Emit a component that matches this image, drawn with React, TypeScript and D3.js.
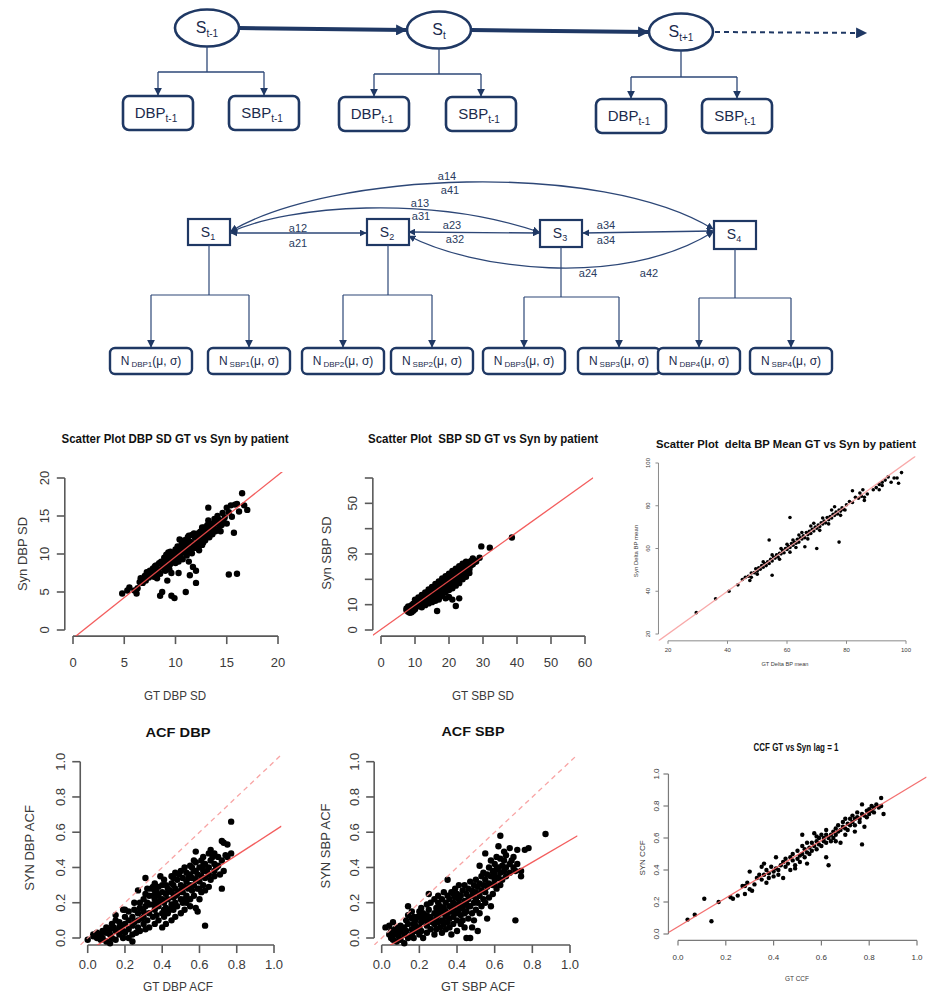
import * as d3 from 'd3'

type Pt = [number, number]

// ---------- top chain diagram ----------
const chainStates = ['t-1', 't', 't+1']
const chainObsSub = ['t-1', 't-1', 't-1']

// ---------- HMM diagram ----------
const hmmStates = ['1', '2', '3', '4']
const hmmEmissions = ['DBP', 'SBP']
const transitionLabels = [
  ['a14', 'a41'],
  ['a13', 'a31'],
  ['a12', 'a21'],
  ['a23', 'a32'],
  ['a34', 'a34'],
  ['a24', 'a42'],
]

// ---------- scatter data ----------
const dbpSd: Pt[] = [
  [4.8, 4.8], [5.3, 5.2], [5.5, 5.6], [6.0, 5.2], [6.2, 4.8], [6.3, 5.5], [6.5, 6.3], [6.6, 6.8], [6.8, 6.2],
  [7.0, 7.1], [7.1, 6.5], [7.2, 7.6], [7.3, 7.3], [7.4, 6.9], [7.5, 7.8], [7.6, 7.2], [7.8, 8.1], [7.9, 7.0],
  [8.0, 7.6], [8.0, 8.4], [8.1, 8.5], [8.2, 6.8], [8.3, 8.0], [8.4, 8.8], [8.5, 7.4], [8.5, 4.5], [8.6, 9.0],
  [8.7, 5.0], [8.8, 8.3], [8.9, 9.5], [9.0, 7.8], [9.0, 8.9], [9.1, 9.9], [9.2, 6.5], [9.2, 9.7], [9.3, 8.5],
  [9.3, 10.2], [9.4, 9.3], [9.5, 10.3], [9.6, 7.5], [9.6, 4.5], [9.7, 9.0], [9.7, 9.6], [9.8, 10.0], [9.9, 4.2],
  [10.0, 8.8], [10.0, 10.6], [10.1, 9.6], [10.2, 11.0], [10.2, 10.0], [10.3, 7.5], [10.4, 9.9], [10.4, 11.9],
  [10.5, 10.8], [10.5, 9.5], [10.6, 11.3], [10.7, 9.3], [10.8, 10.5], [10.8, 11.4], [10.9, 11.8], [11.0, 5.0],
  [11.0, 10.1], [11.0, 11.7], [11.1, 11.0], [11.2, 12.2], [11.3, 9.0], [11.3, 10.6], [11.4, 7.2], [11.5, 10.7],
  [11.5, 11.6], [11.6, 12.5], [11.6, 10.1], [11.7, 8.3], [11.8, 11.0], [11.8, 12.7], [11.9, 12.2], [12.0, 6.2],
  [12.0, 7.8], [12.1, 11.5], [12.2, 12.7], [12.3, 10.5], [12.3, 12.0], [12.4, 12.0], [12.5, 13.0], [12.6, 11.2],
  [12.6, 13.5], [12.7, 12.4], [12.8, 13.5], [12.8, 12.9], [12.9, 11.8], [13.0, 12.8], [13.1, 13.8], [13.2, 14.4],
  [13.2, 16.1], [13.3, 12.2], [13.4, 13.2], [13.5, 14.0], [13.5, 13.5], [13.6, 12.6], [13.7, 13.6], [13.8, 14.6],
  [13.9, 13.0], [14.0, 14.0], [14.1, 15.0], [14.2, 13.3], [14.3, 14.4], [14.5, 13.8], [14.6, 15.4], [14.8, 14.8],
  [15.0, 14.0], [15.0, 16.1], [15.2, 15.5], [15.2, 7.3], [15.4, 16.4], [15.5, 14.9], [15.7, 12.8], [15.8, 16.5],
  [16.0, 7.4], [16.0, 16.6], [16.2, 15.6], [16.5, 18.0], [16.7, 16.4], [17.0, 15.8],
  [8.2, 7.9], [8.7, 8.6], [8.9, 8.0], [9.1, 8.4], [9.4, 8.0], [9.6, 9.4], [9.9, 9.2], [10.1, 10.4], [10.3, 9.0],
  [10.6, 10.2], [10.9, 10.9], [11.1, 9.8], [11.2, 11.4], [11.4, 10.3], [11.7, 11.4], [11.9, 10.8], [12.1, 12.3],
  [12.2, 11.0], [12.4, 12.9], [12.7, 11.5], [12.9, 13.2], [13.1, 12.5], [13.3, 13.6], [13.6, 13.9], [13.9, 14.2],
  [14.2, 14.5], [14.4, 13.0], [14.7, 14.2], [9.5, 8.7], [10.0, 9.2], [10.7, 11.7], [11.3, 12.4], [7.7, 7.6],
  [8.4, 7.5], [6.9, 6.7],
]

const sbpSd: Pt[] = [
  [7.5, 7.8], [7.5, 8.5], [8, 7.2], [8, 8.6], [8, 9.3], [8.5, 8.0], [8.5, 9.2], [9, 8.3], [9, 9.8], [9, 7.0],
  [9.5, 9.0], [9.5, 10.4], [10, 9.4], [10, 10.8], [10, 8.2], [10.5, 10.0], [10.5, 11.3], [11, 10.2], [11, 11.8],
  [11, 9.4], [11.5, 10.8], [11.5, 12.3], [12, 11.2], [12, 12.8], [12, 10.0], [12.5, 11.6], [12.5, 13.3],
  [12.5, 12.4], [13, 12.2], [13, 13.8], [13, 10.8], [13.5, 12.8], [13.5, 14.4], [13.5, 11.7], [14, 13.2],
  [14, 14.8], [14, 12.0], [14.5, 13.8], [14.5, 15.5], [14.5, 12.6], [15, 14.2], [15, 16.0], [15, 13.0],
  [15, 11.5], [15.5, 14.8], [15.5, 16.4], [15.5, 13.5], [16, 15.2], [16, 17.0], [16, 13.8], [16, 12.2],
  [16.5, 15.8], [16.5, 17.5], [16.5, 14.2], [16.5, 7.5], [17, 16.2], [17, 18.0], [17, 14.6], [17, 12.0],
  [17.5, 16.8], [17.5, 18.5], [17.5, 15.2], [18, 17.2], [18, 19.0], [18, 15.5], [18, 13.5], [18.5, 17.8],
  [18.5, 19.5], [18.5, 16.0], [19, 18.2], [19, 20.2], [19, 16.5], [19, 12.5], [19.5, 18.7], [19.5, 20.6],
  [19.5, 17.2], [20, 19.2], [20, 21.0], [20, 17.8], [20, 13.0], [20.5, 19.8], [20.5, 21.6], [20.5, 18.4],
  [21, 20.2], [21, 22.2], [21, 18.8], [21, 12.0], [21.5, 20.8], [21.5, 22.5], [21.5, 19.2], [22, 21.2],
  [22, 23.0], [22, 19.8], [22, 9.5], [22.5, 21.6], [22.5, 23.5], [22.5, 20.2], [23, 22.2], [23, 24.0],
  [23, 20.8], [23, 12.5], [23.5, 22.6], [23.5, 24.5], [23.5, 21.2], [24, 23.2], [24, 25.0], [24, 22.0],
  [24.5, 23.6], [24.5, 25.3], [25, 24.2], [25, 25.8], [25, 22.8], [25.5, 24.6], [25.5, 26.2], [26, 25.0],
  [26, 26.8], [26, 24.0], [26.5, 25.6], [26.5, 27.3], [27, 26.0], [27, 28.2], [27.5, 26.8], [27.5, 27.5],
  [28, 27.0], [29, 28.5], [29.5, 33.0], [32, 32.5], [38.5, 36.5],
  [10, 12.0], [11, 12.8], [12, 13.8], [13, 14.8], [14, 16.0], [15, 17.0], [16, 18.2], [17, 19.2], [18, 20.3],
  [19, 21.2], [20, 22.2], [21, 23.3], [22, 24.2], [23, 25.2], [24, 26.2], [25, 27.0], [12, 9.0], [13, 9.8],
  [14, 10.5], [15, 11.0], [16, 11.5], [17, 13.0], [18, 14.2], [19, 15.0], [20, 15.8], [21, 16.5], [22, 17.5],
  [23, 18.5], [24, 20.0], [25, 21.0], [26, 22.5], [8.5, 6.8], [9.5, 7.6],
]

const deltaBpMean: Pt[] = [
  [29.5, 30], [36, 36.5], [40.5, 40], [43.5, 43], [45, 45.5], [46, 46.5], [47, 47], [47.5, 45], [48, 48.5],
  [48, 46.5], [49, 48.7], [49.5, 50.5], [50, 49.5], [50, 48], [50.5, 51], [51, 50.3], [51.5, 52], [52, 51.2],
  [52, 53.8], [52.5, 53], [53, 52], [53.5, 53.8], [54, 53], [54, 64], [54.5, 55], [55, 54.2], [55, 47.5],
  [55, 57], [55.5, 56], [56, 55.5], [56.5, 57], [57, 56], [57.5, 57.8], [57.5, 55], [58, 57.5], [58, 60],
  [58.5, 59], [59, 58], [59.5, 60], [60, 59.5], [60, 62], [60.5, 61], [61, 60.5], [61, 74.5], [61, 58.3],
  [61.5, 62.3], [62, 61.5], [62, 64], [62.5, 63], [63, 62.5], [63, 60.5], [63.5, 64.3], [64, 63], [64, 66.3],
  [64.5, 65], [65, 64.5], [65, 67.5], [65.5, 66], [66, 65], [66, 60.8], [66.5, 67.5], [67, 66.5], [67, 64.5],
  [67.5, 68], [68, 67], [68, 70.5], [68.5, 69], [69, 68.2], [69, 71.8], [69.5, 70], [70, 69.5], [70, 60],
  [70.5, 71], [71, 70.3], [71, 68.5], [71.5, 72], [72, 71.5], [72, 74.3], [72.5, 72.8], [73, 72], [73.5, 74.5],
  [74, 73.5], [74, 71.5], [74.5, 75], [75, 74.3], [75, 78], [75.5, 76], [76, 75.5], [76, 79.5], [76.5, 77],
  [77, 76.2], [77.5, 63], [77.5, 78], [78, 77.5], [78, 75.5], [78.5, 79], [79, 78.3], [79.5, 78], [80, 80.5],
  [81, 82], [82, 81.5], [82, 87], [83, 84], [84, 83.5], [84.5, 86], [85, 84.5], [85.5, 87.5], [86, 82.5],
  [86, 84], [87, 85.5], [89, 87.5], [90, 88.5], [91, 90], [91, 87.5], [92, 91], [92, 89.5], [93, 92],
  [94, 93.5], [95, 91], [96, 93], [97, 93], [97.5, 90.5], [98.5, 95.5],
]

const acfDbp: Pt[] = [
  [0.0, -0.01], [0.03, 0.02], [0.03, 0.01], [0.05, 0.0], [0.05, 0.03], [0.07, 0.02], [0.07, -0.01], [0.08, 0.04],
  [0.08, 0.0], [0.1, 0.03], [0.1, 0.06], [0.1, -0.02], [0.12, 0.02], [0.12, 0.05], [0.12, -0.03], [0.13, 0.08],
  [0.13, 0.0], [0.15, 0.04], [0.15, 0.13], [0.15, 0.1], [0.15, -0.01], [0.17, 0.06], [0.17, 0.02], [0.17, 0.09],
  [0.19, 0.0], [0.19, 0.04], [0.19, 0.16], [0.2, 0.08], [0.2, 0.12], [0.2, 0.03], [0.22, 0.1], [0.22, 0.05],
  [0.22, 0.15], [0.22, 0.0], [0.24, 0.12], [0.24, 0.07], [0.24, 0.02], [0.24, -0.02], [0.25, 0.16], [0.25, 0.09],
  [0.27, 0.14], [0.27, 0.27], [0.27, 0.06], [0.27, 0.1], [0.28, 0.2], [0.28, 0.04], [0.28, 0.17], [0.3, 0.12],
  [0.3, 0.22], [0.31, 0.34], [0.3, 0.08], [0.3, 0.15], [0.31, 0.18], [0.31, 0.25], [0.31, 0.05], [0.32, 0.1],
  [0.32, 0.2], [0.32, 0.28], [0.33, 0.14], [0.33, 0.24], [0.33, 0.06], [0.35, 0.19], [0.35, 0.29], [0.35, 0.12],
  [0.35, 0.24], [0.36, 0.08], [0.36, 0.16], [0.36, 0.31], [0.36, 0.22], [0.37, 0.26], [0.37, 0.13], [0.37, 0.2],
  [0.38, 0.18], [0.38, 0.29], [0.38, 0.1], [0.38, 0.24], [0.4, 0.14], [0.4, 0.22], [0.4, 0.3], [0.4, 0.06],
  [0.4, 0.26], [0.41, 0.2], [0.41, 0.33], [0.41, 0.12], [0.42, 0.25], [0.42, 0.17], [0.42, 0.3], [0.42, 0.08],
  [0.43, 0.22], [0.43, 0.28], [0.43, 0.14], [0.45, 0.19], [0.45, 0.31], [0.45, 0.26], [0.45, 0.1], [0.45, 0.35],
  [0.46, 0.23], [0.46, 0.16], [0.46, 0.3], [0.47, 0.28], [0.47, 0.2], [0.47, 0.37], [0.47, 0.12], [0.48, 0.25],
  [0.48, 0.33], [0.48, 0.18], [0.5, 0.3], [0.5, 0.22], [0.5, 0.38], [0.5, 0.14], [0.5, 0.27], [0.51, 0.34],
  [0.51, 0.2], [0.51, 0.26], [0.52, 0.29], [0.52, 0.4], [0.52, 0.16], [0.53, 0.32], [0.53, 0.24], [0.53, 0.37],
  [0.55, 0.3], [0.55, 0.41], [0.55, 0.22], [0.55, 0.36], [0.55, 0.18], [0.56, 0.34], [0.56, 0.27], [0.56, 0.4],
  [0.57, 0.38], [0.57, 0.3], [0.57, 0.24], [0.58, 0.33], [0.58, 0.43], [0.58, 0.49], [0.58, 0.17], [0.59, 0.36],
  [0.59, 0.28], [0.59, 0.15], [0.6, 0.4], [0.6, 0.32], [0.6, 0.22], [0.61, 0.44], [0.61, 0.35], [0.61, 0.26],
  [0.62, 0.38], [0.62, 0.3], [0.62, 0.46], [0.63, 0.07], [0.63, 0.42], [0.63, 0.34], [0.65, 0.4], [0.65, 0.48],
  [0.65, 0.36], [0.65, 0.29], [0.66, 0.44], [0.66, 0.33], [0.66, 0.5], [0.68, 0.42], [0.68, 0.38], [0.68, 0.35],
  [0.7, 0.46], [0.7, 0.41], [0.72, 0.55], [0.72, 0.44], [0.72, 0.28], [0.73, 0.54], [0.73, 0.38], [0.75, 0.46],
  [0.75, 0.53], [0.77, 0.66], [0.77, 0.48],
  [0.25, 0.2], [0.29, 0.11], [0.33, 0.19], [0.34, 0.28], [0.39, 0.21], [0.39, 0.35], [0.44, 0.27], [0.44, 0.16],
  [0.46, 0.34], [0.49, 0.26], [0.49, 0.36], [0.52, 0.22], [0.54, 0.28], [0.54, 0.34], [0.57, 0.44], [0.6, 0.28],
  [0.62, 0.41], [0.64, 0.38], [0.67, 0.46], [0.69, 0.4], [0.71, 0.36], [0.74, 0.47], [0.2, 0.16], [0.18, 0.07],
  [0.14, 0.06], [0.26, 0.03], [0.36, 0.27], [0.41, 0.16], [0.47, 0.24], [0.53, 0.2], [0.58, 0.38], [0.68, 0.48],
  [0.63, 0.27],
]

const acfSbp: Pt[] = [
  [0.02, 0.06], [0.04, 0.07], [0.04, 0.02], [0.05, 0.0], [0.05, 0.04], [0.06, 0.09], [0.06, -0.01], [0.07, 0.02],
  [0.07, 0.05], [0.08, -0.02], [0.08, 0.06], [0.09, 0.01], [0.09, 0.03], [0.1, 0.04], [0.1, -0.01], [0.1, 0.07],
  [0.12, 0.02], [0.12, 0.06], [0.12, -0.03], [0.13, 0.1], [0.13, 0.04], [0.14, 0.18], [0.14, 0.0], [0.14, 0.08],
  [0.14, 0.13], [0.16, 0.05], [0.16, 0.11], [0.16, 0.02], [0.16, 0.15], [0.17, 0.08], [0.17, 0.12], [0.17, 0.0],
  [0.18, 0.1], [0.18, 0.04], [0.18, 0.07], [0.2, 0.06], [0.2, 0.12], [0.2, 0.15], [0.2, 0.02], [0.21, 0.09],
  [0.21, 0.17], [0.21, 0.04], [0.22, 0.11], [0.22, 0.0], [0.22, 0.14], [0.24, 0.07], [0.24, 0.13], [0.24, 0.19],
  [0.24, 0.03], [0.25, 0.1], [0.25, 0.16], [0.25, 0.25], [0.26, 0.05], [0.26, 0.12], [0.26, 0.2], [0.28, 0.08],
  [0.28, 0.14], [0.28, 0.22], [0.28, 0.02], [0.29, 0.11], [0.29, 0.17], [0.29, 0.05], [0.3, 0.13], [0.3, 0.2],
  [0.3, 0.09], [0.3, 0.24], [0.31, 0.06], [0.31, 0.15], [0.31, 0.18], [0.32, 0.1], [0.32, 0.22], [0.32, 0.03],
  [0.32, 0.14], [0.33, 0.17], [0.33, 0.08], [0.33, 0.26], [0.34, 0.12], [0.34, 0.2], [0.34, 0.05], [0.35, 0.14],
  [0.35, 0.24], [0.35, 0.09], [0.35, 0.33], [0.36, 0.18], [0.36, 0.11], [0.36, 0.06], [0.36, 0.22], [0.37, 0.15],
  [0.37, 0.26], [0.37, 0.02], [0.38, 0.2], [0.38, 0.12], [0.38, 0.08], [0.38, 0.17], [0.39, 0.23], [0.39, 0.14],
  [0.39, 0.28], [0.4, 0.1], [0.4, 0.19], [0.4, 0.25], [0.4, 0.04], [0.41, 0.16], [0.41, 0.22], [0.41, 0.3],
  [0.42, 0.13], [0.42, 0.08], [0.42, 0.24], [0.42, 0.19], [0.43, 0.27], [0.43, 0.17], [0.43, 0.1], [0.44, 0.21],
  [0.44, 0.06], [0.44, 0.3], [0.45, 0.15], [0.45, 0.25], [0.45, 0.0], [0.45, 0.19], [0.46, 0.28], [0.46, 0.11],
  [0.46, 0.22], [0.47, 0.18], [0.47, 0.32], [0.47, 0.0], [0.48, 0.24], [0.48, 0.14], [0.48, 0.27], [0.49, 0.2],
  [0.49, 0.3], [0.49, 0.1], [0.5, 0.26], [0.5, 0.33], [0.5, 0.16], [0.5, 0.22], [0.51, 0.29], [0.51, 0.04],
  [0.51, 0.2], [0.52, 0.31], [0.52, 0.41], [0.52, 0.24], [0.53, 0.27], [0.53, 0.35], [0.53, 0.18], [0.54, 0.22],
  [0.54, 0.3], [0.54, 0.37], [0.55, 0.33], [0.55, 0.26], [0.55, 0.48], [0.56, 0.11], [0.56, 0.36], [0.56, 0.29],
  [0.57, 0.31], [0.57, 0.4], [0.57, 0.23], [0.58, 0.35], [0.58, 0.44], [0.58, 0.18], [0.59, 0.3], [0.59, 0.38],
  [0.59, 0.25], [0.6, 0.36], [0.6, 0.42], [0.6, 0.33], [0.61, 0.39], [0.61, 0.28], [0.61, 0.46], [0.62, 0.34],
  [0.62, 0.52], [0.62, 0.4], [0.63, 0.58], [0.63, 0.45], [0.63, 0.37], [0.64, 0.41], [0.64, 0.33], [0.65, 0.44],
  [0.65, 0.38], [0.65, 0.49], [0.66, 0.47], [0.66, 0.4], [0.68, 0.51], [0.68, 0.42], [0.68, 0.37], [0.7, 0.46],
  [0.7, 0.4], [0.71, 0.1], [0.71, 0.38], [0.72, 0.5], [0.72, 0.42], [0.74, 0.35], [0.74, 0.38], [0.76, 0.5],
  [0.78, 0.51], [0.87, 0.59],
  [0.3, 0.17], [0.34, 0.15], [0.38, 0.25], [0.4, 0.14], [0.44, 0.14], [0.46, 0.18], [0.48, 0.06], [0.52, 0.14],
  [0.55, 0.2], [0.6, 0.3], [0.63, 0.3], [0.66, 0.35], [0.69, 0.44], [0.27, 0.09], [0.23, 0.1], [0.19, 0.12],
]

const ccfLag1: Pt[] = [
  [0.04, 0.09], [0.07, 0.12], [0.11, 0.22], [0.14, 0.08], [0.17, 0.2], [0.22, 0.23], [0.23, 0.22], [0.25, 0.24],
  [0.27, 0.3], [0.28, 0.3], [0.28, 0.25], [0.29, 0.32], [0.3, 0.28], [0.3, 0.39], [0.31, 0.27], [0.32, 0.31],
  [0.33, 0.35], [0.34, 0.37], [0.35, 0.34], [0.35, 0.42], [0.36, 0.37], [0.36, 0.44], [0.37, 0.32], [0.37, 0.4],
  [0.38, 0.38], [0.38, 0.35], [0.39, 0.42], [0.4, 0.39], [0.4, 0.36], [0.41, 0.48], [0.41, 0.41], [0.42, 0.4],
  [0.42, 0.37], [0.43, 0.43], [0.44, 0.35], [0.44, 0.45], [0.45, 0.42], [0.45, 0.47], [0.46, 0.44], [0.47, 0.4],
  [0.47, 0.48], [0.48, 0.46], [0.48, 0.5], [0.49, 0.43], [0.49, 0.41], [0.5, 0.47], [0.5, 0.52], [0.51, 0.49],
  [0.51, 0.45], [0.52, 0.5], [0.52, 0.55], [0.52, 0.62], [0.53, 0.48], [0.53, 0.53], [0.54, 0.51], [0.54, 0.44],
  [0.54, 0.57], [0.55, 0.54], [0.55, 0.5], [0.56, 0.57], [0.56, 0.52], [0.57, 0.55], [0.57, 0.63], [0.58, 0.53],
  [0.58, 0.58], [0.58, 0.61], [0.59, 0.56], [0.59, 0.6], [0.6, 0.55], [0.6, 0.62], [0.61, 0.58], [0.61, 0.6],
  [0.62, 0.48], [0.62, 0.62], [0.62, 0.57], [0.62, 0.65], [0.63, 0.6], [0.63, 0.43], [0.64, 0.62], [0.64, 0.58],
  [0.65, 0.64], [0.65, 0.6], [0.66, 0.66], [0.66, 0.62], [0.66, 0.58], [0.67, 0.64], [0.67, 0.68], [0.68, 0.65],
  [0.68, 0.57], [0.69, 0.67], [0.69, 0.7], [0.7, 0.66], [0.7, 0.72], [0.7, 0.62], [0.71, 0.69], [0.71, 0.65],
  [0.72, 0.72], [0.72, 0.68], [0.73, 0.7], [0.73, 0.74], [0.74, 0.72], [0.74, 0.68], [0.74, 0.64], [0.75, 0.73],
  [0.75, 0.76], [0.76, 0.72], [0.76, 0.7], [0.77, 0.75], [0.77, 0.56], [0.77, 0.81], [0.78, 0.74], [0.78, 0.67],
  [0.79, 0.77], [0.79, 0.73], [0.8, 0.78], [0.8, 0.75], [0.81, 0.8], [0.81, 0.77], [0.82, 0.79], [0.82, 0.76],
  [0.83, 0.81], [0.84, 0.79], [0.85, 0.85], [0.85, 0.8], [0.86, 0.75],
]

// tick values
const sdDbpTicks = [0, 5, 10, 15, 20]
const sdSbpXTicks = [0, 10, 20, 30, 40, 50, 60]
const sdSbpYLabels = [0, 10, 30, 50]
const deltaTicks = [20, 40, 60, 80, 100]
const acfTicks = [0, 0.2, 0.4, 0.6, 0.8, 1.0]

const NAVY = '#1f3864'
const LINE = '#2d4777'
const FONT = '"Liberation Sans", Arial, Helvetica, sans-serif'

interface Fit { a: number; b: number; dash?: boolean; color: string }
interface PanelSpec {
  id: string
  title: string
  titleAt: Pt; titleSize: number; titleWidth: number
  xDom: Pt; yDom: Pt; xPx: Pt; yPx: Pt
  xTicks: number[]; yTicks: number[]; yLabels?: number[]
  fmt: (v: number) => string
  tickFont: number; tickLen: number; xLabOff: number; yLabOff: number
  xlab: string; xlabAt: Pt; xlabWidth: number
  ylab: string; ylabAt: Pt; labFont: number
  points: Pt[]; r: number
  fits: Fit[]
  axisColor: string; axisWidth: number
}

const f1 = (v: number) => v.toFixed(1)
const f0 = (v: number) => String(v)

const panels: PanelSpec[] = [
  {
    id: 'p1', title: 'Scatter Plot DBP SD GT vs Syn by patient', titleAt: [175, 443], titleSize: 13, titleWidth: 227,
    xDom: [0, 20], yDom: [0, 20], xPx: [73, 278], yPx: [630, 478],
    xTicks: sdDbpTicks, yTicks: sdDbpTicks, fmt: f0,
    tickFont: 13, tickLen: 8, xLabOff: 31, yLabOff: 20,
    xlab: 'GT DBP SD', xlabAt: [175, 700], xlabWidth: 62,
    ylab: 'Syn DBP SD', ylabAt: [22, 554], labFont: 13,
    points: dbpSd, r: 3.2,
    fits: [{ a: -1.1, b: 1.074, color: '#f24b4b' }],
    axisColor: '#5a5a5a', axisWidth: 1.6,
  },
  {
    id: 'p2', title: 'Scatter Plot  SBP SD GT vs Syn by patient', titleAt: [483, 443], titleSize: 13, titleWidth: 230,
    xDom: [0, 60], yDom: [0, 60], xPx: [381, 585], yPx: [630, 478],
    xTicks: sdSbpXTicks, yTicks: sdSbpXTicks, yLabels: sdSbpYLabels, fmt: f0,
    tickFont: 13, tickLen: 8, xLabOff: 31, yLabOff: 20,
    xlab: 'GT SBP SD', xlabAt: [483, 700], xlabWidth: 62,
    ylab: 'Syn SBP SD', ylabAt: [326, 553], labFont: 13,
    points: sbpSd, r: 3.2,
    fits: [{ a: 0.2, b: 0.96, color: '#f24b4b' }],
    axisColor: '#5a5a5a', axisWidth: 1.6,
  },
  {
    id: 'p3', title: 'Scatter Plot  delta BP Mean GT vs Syn by patient', titleAt: [786, 448], titleSize: 11.5, titleWidth: 260,
    xDom: [20, 100], yDom: [20, 100], xPx: [668, 906], yPx: [634, 463],
    xTicks: deltaTicks, yTicks: deltaTicks, fmt: f0,
    tickFont: 6, tickLen: 3, xLabOff: 11.5, yLabOff: 10.5,
    xlab: 'GT Delta BP mean', xlabAt: [785, 666], xlabWidth: 47,
    ylab: 'Syn Delta BP mean', ylabAt: [636, 551], labFont: 6,
    points: deltaBpMean, r: 1.8,
    fits: [{ a: 0, b: 1, color: '#f7a0a0' }],
    axisColor: '#8a8a8a', axisWidth: 1,
  },
  {
    id: 'p4', title: 'ACF DBP', titleAt: [178, 737], titleSize: 13, titleWidth: 65,
    xDom: [0, 1], yDom: [0, 1], xPx: [87.7, 274], yPx: [938, 761.7],
    xTicks: acfTicks, yTicks: acfTicks, fmt: f1,
    tickFont: 13, tickLen: 8, xLabOff: 24, yLabOff: 20,
    xlab: 'GT DBP ACF', xlabAt: [178, 991], xlabWidth: 70,
    ylab: 'SYN DBP ACF', ylabAt: [29, 848], labFont: 13,
    points: acfDbp, r: 3.2,
    fits: [{ a: -0.076, b: 0.683, color: '#f24b4b' }, { a: 0, b: 1, dash: true, color: '#f79a9a' }],
    axisColor: '#5a5a5a', axisWidth: 1.6,
  },
  {
    id: 'p5', title: 'ACF SBP', titleAt: [473, 736], titleSize: 13, titleWidth: 63,
    xDom: [0, 1], yDom: [0, 1], xPx: [381.7, 570], yPx: [938, 761.7],
    xTicks: acfTicks, yTicks: acfTicks, fmt: f1,
    tickFont: 13, tickLen: 8, xLabOff: 24, yLabOff: 20,
    xlab: 'GT SBP ACF', xlabAt: [478, 991], xlabWidth: 74,
    ylab: 'SYN SBP ACF', ylabAt: [325, 846], labFont: 13,
    points: acfSbp, r: 3.2,
    fits: [{ a: -0.069, b: 0.624, color: '#f24b4b' }, { a: 0, b: 1, dash: true, color: '#f79a9a' }],
    axisColor: '#5a5a5a', axisWidth: 1.6,
  },
  {
    id: 'p6', title: 'CCF GT vs Syn lag = 1', titleAt: [796, 751], titleSize: 10, titleWidth: 85,
    xDom: [0, 1], yDom: [0, 1], xPx: [678, 917], yPx: [934, 774],
    xTicks: acfTicks, yTicks: acfTicks, fmt: f1,
    tickFont: 8, tickLen: 5, xLabOff: 20, yLabOff: 11.5,
    xlab: 'GT CCF', xlabAt: [797, 981], xlabWidth: 24,
    ylab: 'SYN CCF', ylabAt: [642, 858], labFont: 8,
    points: ccfLag1, r: 2.2,
    fits: [{ a: 0.045, b: 0.9, color: '#f26060' }],
    axisColor: '#7a7a7a', axisWidth: 1.2,
  },
]

function ScatterPanel({ p }: { p: PanelSpec }) {
  const x = d3.scaleLinear().domain(p.xDom).range(p.xPx)
  const y = d3.scaleLinear().domain(p.yDom).range(p.yPx)
  // R style plot region: 4% padding around the axis range
  const padX = (p.xDom[1] - p.xDom[0]) * 0.04
  const padY = (p.yDom[1] - p.yDom[0]) * 0.04
  const ux: Pt = [p.xDom[0] - padX, p.xDom[1] + padX]
  const uy: Pt = [p.yDom[0] - padY, p.yDom[1] + padY]
  const left = x(ux[0]), right = x(ux[1]), bottom = y(uy[0]), top = y(uy[1])
  const yLabels = p.yLabels ?? p.yTicks
  const lineGen = d3.line<Pt>().x(d => x(d[0])).y(d => y(d[1]))
  const xt = p.xTicks, yt = p.yTicks
  return (
    <g fontFamily={FONT}>
      <clipPath id={`clip-${p.id}`}>
        <rect x={left} y={top} width={right - left} height={bottom - top} />
      </clipPath>
      <text x={p.titleAt[0]} y={p.titleAt[1]} textAnchor="middle" fontWeight="bold" fontSize={p.titleSize}
        fill="#111" textLength={p.titleWidth} lengthAdjust="spacingAndGlyphs"
        style={{ whiteSpace: 'pre' }}>{p.title}</text>
      {/* axes */}
      <line x1={x(xt[0])} x2={x(xt[xt.length - 1])} y1={bottom} y2={bottom} stroke={p.axisColor} strokeWidth={p.axisWidth} />
      {xt.map(t => (
        <g key={`xt${t}`}>
          <line x1={x(t)} x2={x(t)} y1={bottom} y2={bottom + p.tickLen} stroke={p.axisColor} strokeWidth={p.axisWidth} />
          <text x={x(t)} y={bottom + p.xLabOff} textAnchor="middle" fontSize={p.tickFont} fill="#3a3a3a">{p.fmt(t)}</text>
        </g>
      ))}
      <line x1={left} x2={left} y1={y(yt[0])} y2={y(yt[yt.length - 1])} stroke={p.axisColor} strokeWidth={p.axisWidth} />
      {yt.map(t => (
        <line key={`yt${t}`} x1={left - p.tickLen} x2={left} y1={y(t)} y2={y(t)} stroke={p.axisColor} strokeWidth={p.axisWidth} />
      ))}
      {yLabels.map(t => (
        <text key={`yl${t}`} transform={`translate(${left - p.yLabOff},${y(t)}) rotate(-90)`} textAnchor="middle"
          dominantBaseline="central" fontSize={p.tickFont} fill="#3a3a3a">{p.fmt(t)}</text>
      ))}
      <text x={p.xlabAt[0]} y={p.xlabAt[1]} textAnchor="middle" fontSize={p.labFont} fill="#3a3a3a"
        textLength={p.xlabWidth} lengthAdjust="spacingAndGlyphs">{p.xlab}</text>
      <text transform={`translate(${p.ylabAt[0]},${p.ylabAt[1]}) rotate(-90)`} textAnchor="middle"
        dominantBaseline="central" fontSize={p.labFont} fill="#3a3a3a">{p.ylab}</text>
      {/* points */}
      {p.points.map((d, i) => (
        <circle key={i} cx={x(d[0])} cy={y(d[1])} r={p.r} fill="#000" />
      ))}
      {/* fitted / identity lines */}
      <g clipPath={`url(#clip-${p.id})`}>
        {p.fits.map((f, i) => (
          <path key={i} d={lineGen([[ux[0], f.a + f.b * ux[0]], [ux[1], f.a + f.b * ux[1]]]) ?? ''}
            stroke={f.color} strokeWidth={1.3} fill="none" strokeDasharray={f.dash ? '5,4' : undefined}
            opacity={0.9} />
        ))}
      </g>
    </g>
  )
}

function Sub({ base, sub, size, subSize, x, y, subDy }: {
  base: string; sub: string; size: number; subSize: number; x: number; y: number; subDy: number
}) {
  return (
    <text x={x} y={y} textAnchor="middle" fontSize={size} fill="#1b2b4d" fontFamily={FONT}>
      {base}<tspan fontSize={subSize} dy={subDy}>{sub}</tspan>
    </text>
  )
}

function ChainDiagram() {
  const cx = [207, 439, 681]
  const cy = [28, 30, 32]
  const barY = [72, 74, 77]
  const dbpX = [158, 374, 631]
  const sbpX = [264, 481, 737]
  const boxTop = [96, 97, 99]
  const bw = 70, bh = 34
  const rx = 32, ry = 18.5
  return (
    <g>
      {/* transitions */}
      <line x1={cx[0] + rx} y1={cy[0]} x2={cx[1] - rx - 1} y2={cy[1]} stroke={NAVY} strokeWidth={4} markerEnd="url(#bigArrow)" />
      <line x1={cx[1] + rx} y1={cy[1]} x2={cx[2] - rx - 1} y2={cy[2]} stroke={NAVY} strokeWidth={4} markerEnd="url(#bigArrow)" />
      <line x1={cx[2] + rx + 2} y1={cy[2]} x2={866} y2={cy[2] + 1} stroke={NAVY} strokeWidth={2} strokeDasharray="5,4" markerEnd="url(#bigArrow)" />
      {chainStates.map((s, i) => (
        <g key={s}>
          <ellipse cx={cx[i]} cy={cy[i]} rx={rx} ry={ry} fill="#fff" stroke={NAVY} strokeWidth={2.6} />
          <Sub base="S" sub={s} size={16} subSize={10} x={cx[i]} y={cy[i] + 5} subDy={4} />
          <line x1={cx[i]} x2={cx[i]} y1={cy[i] + ry} y2={barY[i]} stroke={LINE} strokeWidth={1.3} />
          <line x1={dbpX[i]} x2={sbpX[i]} y1={barY[i]} y2={barY[i]} stroke={LINE} strokeWidth={1.3} />
          {[dbpX[i], sbpX[i]].map((bx, j) => (
            <g key={j}>
              <line x1={bx} x2={bx} y1={barY[i]} y2={boxTop[i] - 1} stroke={LINE} strokeWidth={1.3} markerEnd="url(#smallArrow)" />
              <rect x={bx - bw / 2} y={boxTop[i]} width={bw} height={bh} rx={6} fill="#fff" stroke={NAVY} strokeWidth={2.6} />
              <Sub base={hmmEmissions[j]} sub={chainObsSub[i]} size={15} subSize={10} x={bx - 2} y={boxTop[i] + 22} subDy={4} />
            </g>
          ))}
        </g>
      ))}
    </g>
  )
}

function HmmDiagram() {
  const sx = [188, 367, 540, 714]
  const sy = [219, 219, 220, 221]
  const sw = 42, sh = [26, 26, 27, 28]
  const barY = [295, 295, 297, 298]
  const dbpX = [151, 343, 524, 699]
  const sbpX = [249, 432, 619, 791]
  const nTop = 348, nh = 26, nw = 82
  const p = (pts: number[]) => {
    const path = d3.path()
    path.moveTo(pts[0], pts[1])
    if (pts.length === 4) path.lineTo(pts[2], pts[3])
    else path.bezierCurveTo(pts[2], pts[3], pts[4], pts[5], pts[6], pts[7])
    return path.toString()
  }
  const arcs = [
    p([231, 231, 330, 172, 600, 160, 713, 229]),
    p([231, 232, 290, 205, 430, 195, 539, 232]),
    p([231, 233, 366, 233]),
    p([409, 232, 539, 233]),
    p([583, 233, 713, 231]),
    p([409, 236, 470, 268, 620, 290, 713, 232]),
  ]
  const labelPos: [Pt, Pt][] = [
    [[447, 180], [450, 194]],
    [[420, 207], [421, 220]],
    [[298, 232], [298, 247]],
    [[452, 229], [455, 243]],
    [[606, 229], [606, 244]],
    [[588, 277], [649, 277]],
  ]
  return (
    <g>
      {arcs.map((d, i) => (
        <path key={i} d={d} fill="none" stroke={LINE} strokeWidth={1.3}
          markerStart="url(#tinyArrow)" markerEnd="url(#tinyArrow)" />
      ))}
      {transitionLabels.map((pair, i) => pair.map((lab, j) => (
        <text key={`${i}-${j}`} x={labelPos[i][j][0]} y={labelPos[i][j][1]} textAnchor="middle" fontSize={11}
          fill="#2a3c60" fontFamily={FONT}>{lab}</text>
      )))}
      {hmmStates.map((s, i) => (
        <g key={s}>
          <rect x={sx[i]} y={sy[i]} width={sw} height={sh[i]} fill="#fff" stroke={NAVY} strokeWidth={2.2} />
          <Sub base="S" sub={s} size={14} subSize={9} x={sx[i] + sw / 2 - 1} y={sy[i] + 18} subDy={3} />
          <line x1={sx[i] + sw / 2} x2={sx[i] + sw / 2} y1={sy[i] + sh[i]} y2={barY[i]} stroke={LINE} strokeWidth={1.2} />
          <line x1={dbpX[i]} x2={sbpX[i]} y1={barY[i]} y2={barY[i]} stroke={LINE} strokeWidth={1.2} />
          {[dbpX[i], sbpX[i]].map((bx, j) => (
            <g key={j}>
              <line x1={bx} x2={bx} y1={barY[i]} y2={nTop - 1} stroke={LINE} strokeWidth={1.2} markerEnd="url(#smallArrow)" />
              <rect x={bx - nw / 2} y={nTop} width={nw} height={nh} rx={5} fill="#fff" stroke={NAVY} strokeWidth={2.4} />
              <text x={bx} y={nTop + 17} textAnchor="middle" fontSize={12} fill="#1b2b4d" fontFamily={FONT}>
                N<tspan fontSize={8} dx={2} dy={2}>{`${hmmEmissions[j]}${s}`}</tspan><tspan dy={-2}>(μ, σ)</tspan>
              </text>
            </g>
          ))}
        </g>
      ))}
    </g>
  )
}

export default function App() {
  return (
    <div style={{ position: 'absolute', left: 0, top: 0, background: '#fff' }}>
      <svg width={931} height={994} viewBox="0 0 931 994" style={{ display: 'block', background: '#fff' }}>
        <defs>
          <marker id="bigArrow" viewBox="0 0 10 10" refX={9} refY={5} markerWidth={13} markerHeight={11}
            markerUnits="userSpaceOnUse" orient="auto">
            <path d="M0,0 L10,5 L0,10 z" fill={NAVY} />
          </marker>
          <marker id="smallArrow" viewBox="0 0 10 10" refX={9} refY={5} markerWidth={8} markerHeight={8}
            markerUnits="userSpaceOnUse" orient="auto">
            <path d="M0,0 L10,5 L0,10 z" fill={NAVY} />
          </marker>
          <marker id="tinyArrow" viewBox="0 0 10 10" refX={9} refY={5} markerWidth={7} markerHeight={7}
            markerUnits="userSpaceOnUse" orient="auto-start-reverse">
            <path d="M0,0 L10,5 L0,10 z" fill={NAVY} />
          </marker>
        </defs>
        <rect width={931} height={994} fill="#fff" />
        <ChainDiagram />
        <HmmDiagram />
        {panels.map(p => <ScatterPanel key={p.id} p={p} />)}
      </svg>
    </div>
  )
}
